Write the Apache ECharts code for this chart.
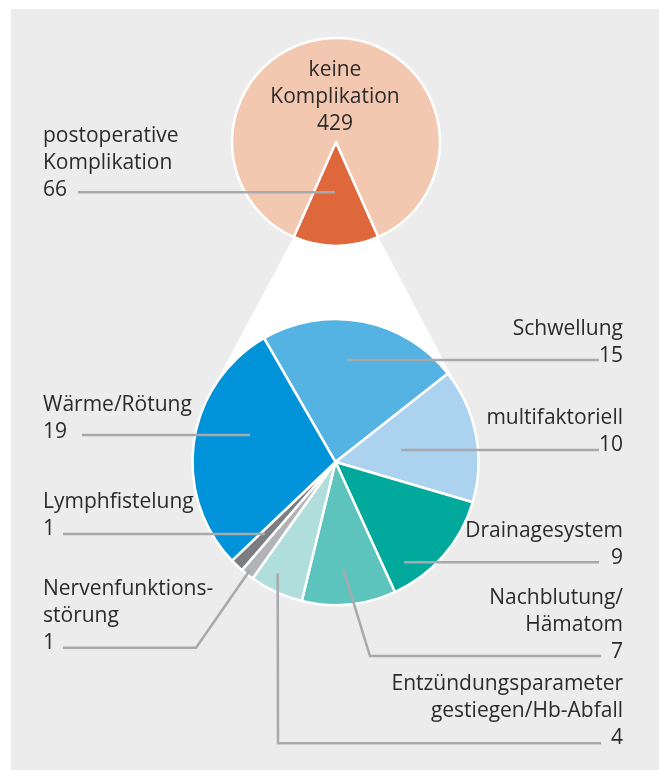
<!DOCTYPE html>
<html><head><meta charset="utf-8">
<script src="https://cdn.jsdelivr.net/npm/echarts@6/dist/echarts.min.js"></script>
<style>html,body{margin:0;padding:0;background:#fff}#chart{width:659px;height:770px}</style>
</head><body><div id="chart"></div>
<script>
// ---- data ----
const overviewCategories = ['postoperative\nKomplikation', 'keine\nKomplikation'];
const overviewValues = [66, 429];
const detailCategories = ['Schwellung', 'multifaktoriell', 'Drainagesystem', 'Nachblutung/\nHämatom',
  'Entzündungsparameter\ngestiegen/Hb-Abfall', 'Nervenfunktions-\nstörung', 'Lymphfistelung', 'Wärme/Rötung'];
const detailValues = [15, 10, 9, 7, 4, 1, 1, 19];

// ---- styles / layout ----
const overviewColors = ['#df673c', '#f3c8b1'];
const detailColors = ['#55b3e3', '#abd3f0', '#00a99c', '#5cc4bd', '#b0dedc', '#b2b3b5', '#7c7d80', '#0093d9'];
const TOP = { cx: 336, cy: 142, r: 104 };
const BOT = { cx: 335.5, cy: 462, r: 143 };
const FONT = { fontFamily: 'Open Sans', fontSize: 21, lineHeight: 27, color: '#2b2b2b' };
const LINE = { stroke: '#a7a9ac', lineWidth: 2.5, fill: null };

const overviewLabelPos = [
  { x: 43, y: 163, align: 'left', pts: [[335, 192.3], [78, 192.3]] },
  { x: 335, y: 97, align: 'center', pts: null }
];
const detailLabelPos = [
  { x: 623, y: 343, align: 'right', pts: [[347, 360], [599, 360]] },
  { x: 623, y: 432, align: 'right', pts: [[401, 450], [599, 450]] },
  { x: 623, y: 545, align: 'right', pts: [[404, 562.3], [599, 562.3]] },
  { x: 623, y: 625, align: 'right', pts: [[343.3, 569.3], [370, 656], [601, 656]] },
  { x: 623, y: 711, align: 'right', pts: [[277.7, 573.3], [278, 743.3], [601, 743.3]] },
  { x: 43, y: 616, align: 'left', pts: [[250, 570], [196, 647.7], [63, 647.7]] },
  { x: 43, y: 516, align: 'left', pts: [[265, 534], [63, 534]] },
  { x: 43, y: 419, align: 'left', pts: [[250, 435], [82, 435]] }
];

// connector (white funnel) derived from the overview share and the two pie geometries
const total = overviewValues.reduce((a, b) => a + b, 0);
const half = Math.PI * overviewValues[0] / total;
const pL = [TOP.cx - TOP.r * Math.sin(half), TOP.cy + TOP.r * Math.cos(half)];
const pR = [TOP.cx + TOP.r * Math.sin(half), TOP.cy + TOP.r * Math.cos(half)];
function tangent(p, pickLeft) {
  const dx = p[0] - BOT.cx, dy = p[1] - BOT.cy;
  const d = Math.sqrt(dx * dx + dy * dy);
  const base = Math.atan2(dy, dx), a = Math.acos(BOT.r / d);
  const t1 = [BOT.cx + BOT.r * Math.cos(base + a), BOT.cy + BOT.r * Math.sin(base + a)];
  const t2 = [BOT.cx + BOT.r * Math.cos(base - a), BOT.cy + BOT.r * Math.sin(base - a)];
  return pickLeft ? (t1[0] < t2[0] ? t1 : t2) : (t1[0] > t2[0] ? t1 : t2);
}
const tL = tangent(pL, true), tR = tangent(pR, false);

function layoutFn(table) {
  return function (params) {
    const L = table[params.dataIndex];
    return { x: L.x, y: L.y, align: L.align, verticalAlign: 'middle' };
  };
}

// leader lines drawn above the slices
const guides = overviewLabelPos.concat(detailLabelPos).filter(L => L.pts).map(L => ({
  type: 'polyline', z: 10, silent: true, shape: { points: L.pts }, style: LINE
}));

const chart = echarts.init(document.getElementById('chart'), null, { renderer: 'canvas' });
chart.setOption({
  backgroundColor: '#ffffff',
  animation: false,
  graphic: [
    { type: 'rect', z: 0, silent: true, shape: { x: 11, y: 9, width: 648, height: 761 }, style: { fill: '#ebeceb' } },
    { type: 'polygon', z: 1, silent: true, shape: { points: [pL, pR, tR, tL] }, style: { fill: '#ffffff' } }
  ].concat(guides),
  series: [
    {
      type: 'pie', z: 3,
      center: [TOP.cx, TOP.cy], radius: [0, TOP.r],
      startAngle: 270 + 180 * overviewValues[0] / total,
      clockwise: true,
      avoidLabelOverlap: false,
      itemStyle: { borderColor: '#ffffff', borderWidth: 2.5 },
      label: { show: true, position: 'outside', formatter: '{b}\n{c}', ...FONT },
      labelLine: { show: false },
      labelLayout: layoutFn(overviewLabelPos),
      emphasis: { disabled: true },
      data: overviewCategories.map((n, i) => ({
        name: n, value: overviewValues[i], itemStyle: { color: overviewColors[i] }
      }))
    },
    {
      type: 'pie', z: 3,
      center: [BOT.cx, BOT.cy], radius: [0, BOT.r],
      startAngle: 120,
      clockwise: true,
      avoidLabelOverlap: false,
      minShowLabelAngle: 0,
      itemStyle: { borderColor: '#ffffff', borderWidth: 2.5 },
      label: { show: true, position: 'outside', formatter: '{b}\n{c}', ...FONT },
      labelLine: { show: false },
      labelLayout: layoutFn(detailLabelPos),
      emphasis: { disabled: true },
      data: detailCategories.map((n, i) => ({
        name: n, value: detailValues[i], itemStyle: { color: detailColors[i] }
      }))
    }
  ]
});
</script></body></html>
